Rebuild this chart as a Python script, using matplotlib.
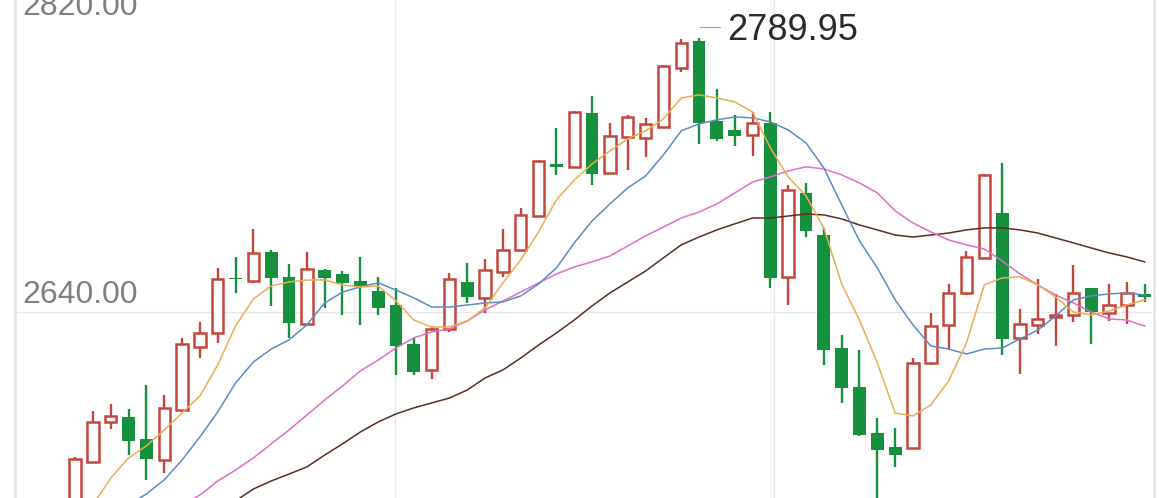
import numpy as np
import matplotlib.pyplot as plt
from matplotlib.transforms import offset_copy

# daily candles (index 0 = leftmost visible bar)
opens = [2528.9, 2558.1, 2580.0, 2582.7, 2570.5, 2559.0, 2586.4, 2620.8, 2628.7, 2658.4,
         2657.0, 2673.0, 2659.3, 2633.4, 2663.0, 2660.8, 2657.1, 2651.7, 2643.8, 2622.5,
         2608.3, 2630.5, 2656.3, 2647.5, 2662.1, 2673.9, 2692.5, 2721.0, 2719.4, 2748.7,
         2715.9, 2735.9, 2735.4, 2741.4, 2773.4, 2788.5, 2744.7, 2739.6, 2736.9, 2743.3,
         2659.3, 2705.3, 2682.1, 2620.1, 2599.1, 2573.6, 2566.1, 2565.4, 2611.9, 2632.9,
         2650.2, 2669.4, 2694.0, 2625.6, 2632.9, 2637.5, 2638.4, 2653.0, 2639.6, 2643.8,
         2649.9]
highs = [2560.6, 2586.0, 2589.6, 2586.9, 2600.0, 2594.6, 2625.8, 2634.7, 2664.1, 2670.3,
         2685.4, 2673.9, 2666.1, 2673.0, 2663.4, 2662.6, 2670.3, 2659.3, 2653.0, 2625.6,
         2631.6, 2661.5, 2666.7, 2668.8, 2685.3, 2696.8, 2723.2, 2740.5, 2750.0, 2758.2,
         2743.3, 2747.8, 2746.0, 2775.2, 2789.4, 2789.95, 2761.9, 2747.8, 2749.6, 2749.6,
         2709.5, 2710.4, 2685.8, 2627.4, 2619.2, 2581.8, 2576.3, 2614.7, 2639.6, 2655.3,
         2673.5, 2715.5, 2721.4, 2641.5, 2657.9, 2649.9, 2665.7, 2653.0, 2655.3, 2656.6,
         2655.3]
lows = [2523.4, 2557.4, 2576.0, 2561.7, 2548.1, 2551.9, 2585.3, 2614.8, 2623.2, 2650.2,
        2655.7, 2643.3, 2625.6, 2632.9, 2642.0, 2638.4, 2632.9, 2638.4, 2605.5, 2605.5,
        2603.2, 2629.2, 2644.8, 2639.6, 2659.3, 2673.9, 2692.3, 2715.0, 2719.1, 2709.5,
        2715.5, 2717.7, 2725.0, 2740.5, 2771.5, 2731.9, 2733.8, 2730.9, 2725.4, 2653.0,
        2643.8, 2680.9, 2611.0, 2590.0, 2572.1, 2535.0, 2555.3, 2565.0, 2611.0, 2619.6,
        2649.3, 2669.0, 2616.5, 2606.1, 2628.0, 2621.4, 2634.7, 2622.5, 2635.2, 2633.4,
        2645.6]
closes = [2559.5, 2580.0, 2583.1, 2569.6, 2559.5, 2587.5, 2622.5, 2628.7, 2658.1, 2657.9,
          2672.5, 2658.4, 2634.1, 2663.5, 2658.4, 2655.9, 2653.8, 2642.0, 2621.4, 2607.3,
          2630.5, 2657.9, 2648.4, 2663.0, 2673.9, 2693.1, 2722.8, 2719.5, 2749.6, 2715.3,
          2736.3, 2746.9, 2742.9, 2774.8, 2787.1, 2743.6, 2734.5, 2736.3, 2743.6, 2658.4,
          2706.8, 2684.5, 2619.2, 2598.2, 2572.7, 2564.5, 2561.7, 2612.3, 2632.3, 2650.6,
          2670.3, 2715.0, 2625.1, 2633.4, 2636.0, 2638.4, 2650.6, 2640.2, 2643.8, 2650.2,
          2648.4]

# moving averages
ma5 = [2520.7, 2534.4, 2549.1, 2560.1, 2566.7, 2575.4, 2584.7, 2594.0, 2611.0, 2632.3,
       2647.1, 2654.2, 2656.4, 2657.5, 2657.5, 2654.8, 2653.7, 2654.2, 2646.0, 2635.6,
       2631.8, 2631.8, 2635.1, 2642.2, 2655.9, 2668.5, 2683.8, 2701.3, 2712.2, 2721.0,
       2728.1, 2734.7, 2739.1, 2745.6, 2757.1, 2758.8, 2757.1, 2754.9, 2749.5, 2729.8,
       2713.9, 2703.5, 2686.0, 2655.3, 2635.6, 2612.1, 2584.7, 2583.1, 2589.1, 2602.2,
       2623.0, 2654.8, 2658.6, 2659.2, 2654.8, 2648.2, 2640.0, 2638.4, 2640.5, 2643.8,
       2646.6]
ma10 = [2504.3, 2515.2, 2526.2, 2534.4, 2540.4, 2548.1, 2559.0, 2571.6, 2585.3, 2601.1,
        2612.6, 2619.7, 2624.7, 2632.9, 2644.9, 2650.9, 2653.7, 2655.9, 2652.0, 2647.7,
        2642.7, 2642.7, 2643.8, 2644.9, 2645.5, 2648.8, 2655.3, 2664.1, 2677.8, 2689.8,
        2699.1, 2707.9, 2714.4, 2725.9, 2739.1, 2742.9, 2745.1, 2746.7, 2746.2, 2744.0,
        2739.6, 2732.5, 2718.8, 2698.6, 2678.9, 2664.1, 2646.6, 2632.9, 2621.4, 2619.7,
        2617.0, 2619.7, 2620.3, 2625.2, 2630.1, 2637.8, 2646.6, 2648.8, 2649.9, 2650.4,
        2649.3]
ma20 = [2501.5, 2507.0, 2512.5, 2518.0, 2523.4, 2528.9, 2534.4, 2539.8, 2547.5, 2553.5,
        2560.1, 2567.8, 2575.4, 2583.6, 2591.8, 2599.5, 2607.7, 2613.7, 2620.3, 2625.8,
        2629.1, 2630.7, 2635.1, 2641.1, 2646.0, 2650.9, 2655.9, 2660.8, 2664.6, 2667.4,
        2670.6, 2676.1, 2681.6, 2686.5, 2691.4, 2694.7, 2699.1, 2705.1, 2711.1, 2713.9,
        2717.2, 2719.4, 2718.3, 2715.0, 2710.6, 2705.1, 2695.3, 2688.7, 2683.8, 2679.4,
        2676.7, 2674.5, 2667.9, 2660.8, 2654.8, 2649.3, 2644.9, 2640.0, 2636.2, 2635.6,
        2632.3]
ma30 = [2496.6, 2501.0, 2505.4, 2509.7, 2514.1, 2518.5, 2522.9, 2527.3, 2531.6, 2536.6,
        2543.1, 2547.5, 2551.3, 2555.2, 2561.7, 2567.8, 2574.3, 2579.8, 2584.2, 2587.5,
        2590.2, 2592.9, 2597.3, 2603.9, 2608.3, 2614.8, 2621.9, 2628.5, 2635.6, 2643.3,
        2650.4, 2656.4, 2662.4, 2669.6, 2676.7, 2681.0, 2684.9, 2688.2, 2691.4, 2691.4,
        2692.5, 2693.6, 2693.1, 2690.9, 2687.6, 2684.9, 2682.1, 2681.0, 2682.1, 2683.2,
        2684.9, 2686.0, 2686.0, 2684.9, 2683.2, 2680.5, 2677.8, 2675.0, 2672.3, 2670.1,
        2667.4]

grid_levels = [2820.00, 2640.00]

RED = '#c4453c'
GREEN = '#15903c'

fig = plt.figure(figsize=(11.7, 4.98), dpi=100)
ax = fig.add_axes([15 / 1170, 0, 1139 / 1170, 515 / 498])
ax.set_xlim(-3.37, 60.52)
ax.set_ylim(2538.2, 2820)

# frame and grid
for s in ['top', 'bottom']:
    ax.spines[s].set_visible(False)
for s in ['left', 'right']:
    ax.spines[s].set_color('#e6e6e6')
    ax.spines[s].set_linewidth(2)
xl, xr = ax.get_xlim()
ax.set_xticks([xl + (xr - xl) / 3, xl + 2 * (xr - xl) / 3])
ax.set_yticks(grid_levels)
ax.grid(True, color='#e8e8e8', lw=1)
ax.set_axisbelow(True)
ax.tick_params(length=0, labelleft=False, labelbottom=False)

# candles
for i, (o, h, l, c) in enumerate(zip(opens, highs, lows, closes)):
    if c >= o:
        body = max(c - o, 0.6)
        ax.vlines(i, c, h, color=RED, lw=1.7, zorder=2)
        ax.vlines(i, l, o, color=RED, lw=1.7, zorder=2)
        ax.bar(i, body, bottom=o, width=0.64, facecolor='white',
               edgecolor=RED, linewidth=1.8, zorder=3)
    else:
        body = max(o - c, 0.9)
        ax.vlines(i, l, h, color=GREEN, lw=1.7, zorder=2)
        ax.bar(i, body, bottom=c, width=0.72, color=GREEN, zorder=3)

# moving averages
idx = np.arange(len(closes))
ax.plot(idx, ma30, color='#5a2d1e', lw=1.1, zorder=4)
ax.plot(idx, ma20, color='#e06ec8', lw=1.1, zorder=4)
ax.plot(idx, ma10, color='#5b8cc4', lw=1.1, zorder=4)
ax.plot(idx, ma5, color='#e9ae4f', lw=1.1, zorder=4)

# axis labels inside the chart (the top one is clipped by the edge, as in the source)
font = 'Liberation Sans'
ax.annotate(f'{grid_levels[0]:.2f}', xy=(0, grid_levels[0]), xycoords=('axes fraction', 'data'),
            xytext=(7, -24), textcoords='offset pixels', va='center', ha='left',
            fontsize=23, color='#7d8085', family=font)
ax.annotate(f'{grid_levels[1]:.2f}', xy=(0, grid_levels[1]), xycoords=('axes fraction', 'data'),
            xytext=(7, 17), textcoords='offset pixels', va='center', ha='left',
            fontsize=23, color='#7d8085', family=font)

# highest price marker
k = int(np.argmax(highs))
dash_tr = offset_copy(ax.transData, fig=fig, x=0, y=11, units='dots')
ax.plot([k + 0.05, k + 1.17], [highs[k], highs[k]], transform=dash_tr, color='#9aa5a8', lw=0.8)
text_tr = offset_copy(ax.transData, fig=fig, x=0, y=7, units='dots')
ax.text(k + 1.57, highs[k], f'{highs[k]:.2f}', transform=text_tr, va='center', ha='left',
        fontsize=26, color='#2a2a2a', family=font)

fig.savefig('out.png', dpi=100, facecolor='white')
